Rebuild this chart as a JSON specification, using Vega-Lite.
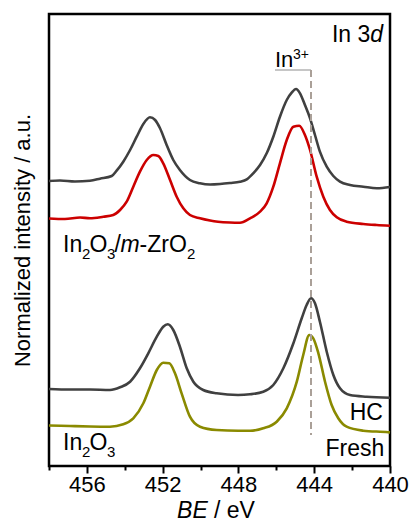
{
  "$schema": "https://vega.github.io/schema/vega-lite/v6.json",
  "width": 341,
  "height": 452,
  "autosize": "none",
  "padding": {"left": 49, "top": 14, "right": 23, "bottom": 61},
  "config": {
    "view": {"stroke": "black", "strokeWidth": 2.5},
    "font": "Liberation Sans",
    "text": {"font": "Liberation Sans", "color": "black", "baseline": "alphabetic"}
  },
  "encoding": {
    "x": {
      "field": "be", "type": "quantitative",
      "scale": {"domain": [440, 458], "reverse": true, "nice": false, "zero": false},
      "axis": {
        "values": [458, 456, 454, 452, 450, 448, 446, 444, 442, 440],
        "domain": false, "grid": false, "title": null,
        "tickColor": "black", "tickWidth": 2,
        "tickSize": {"condition": {"test": "datum.value % 4 == 0", "value": 7}, "value": 4},
        "labelExpr": "datum.value % 4 == 0 ? datum.label : ''",
        "labelFontSize": 22, "labelColor": "black", "labelFont": "Liberation Sans",
        "labelPadding": 1, "labelFlush": false, "labelOverlap": false
      }
    },
    "y": {
      "field": "intensity", "type": "quantitative",
      "scale": {"domain": [0, 452], "nice": false, "zero": false},
      "axis": {
        "ticks": false, "labels": false, "domain": false, "grid": false,
        "title": "Normalized intensity / a.u.", "titleFontSize": 22,
        "titleFontWeight": "normal", "titleColor": "black", "titleFont": "Liberation Sans",
        "titlePadding": 15
      }
    }
  },
  "layer": [
    {
      "data": {"values": [
        {"series": "mZ_HC", "be": 458.00, "intensity": 285},
        {"series": "mZ_HC", "be": 457.42, "intensity": 285.5},
        {"series": "mZ_HC", "be": 456.63, "intensity": 284.5},
        {"series": "mZ_HC", "be": 455.84, "intensity": 285.3},
        {"series": "mZ_HC", "be": 455.31, "intensity": 287.3},
        {"series": "mZ_HC", "be": 454.69, "intensity": 290},
        {"series": "mZ_HC", "be": 454.43, "intensity": 295.3},
        {"series": "mZ_HC", "be": 454.08, "intensity": 304.3},
        {"series": "mZ_HC", "be": 453.72, "intensity": 316},
        {"series": "mZ_HC", "be": 453.37, "intensity": 329.3},
        {"series": "mZ_HC", "be": 453.02, "intensity": 342},
        {"series": "mZ_HC", "be": 452.67, "intensity": 348.7},
        {"series": "mZ_HC", "be": 452.40, "intensity": 346},
        {"series": "mZ_HC", "be": 452.14, "intensity": 337.7},
        {"series": "mZ_HC", "be": 451.79, "intensity": 321},
        {"series": "mZ_HC", "be": 451.44, "intensity": 306},
        {"series": "mZ_HC", "be": 451.09, "intensity": 296},
        {"series": "mZ_HC", "be": 450.56, "intensity": 286},
        {"series": "mZ_HC", "be": 450.03, "intensity": 282.7},
        {"series": "mZ_HC", "be": 449.50, "intensity": 281.5},
        {"series": "mZ_HC", "be": 448.97, "intensity": 282},
        {"series": "mZ_HC", "be": 448.45, "intensity": 283},
        {"series": "mZ_HC", "be": 447.92, "intensity": 284.3},
        {"series": "mZ_HC", "be": 447.56, "intensity": 286.7},
        {"series": "mZ_HC", "be": 447.22, "intensity": 292.7},
        {"series": "mZ_HC", "be": 446.86, "intensity": 301},
        {"series": "mZ_HC", "be": 446.51, "intensity": 312.7},
        {"series": "mZ_HC", "be": 446.16, "intensity": 329.3},
        {"series": "mZ_HC", "be": 445.81, "intensity": 349.3},
        {"series": "mZ_HC", "be": 445.45, "intensity": 366},
        {"series": "mZ_HC", "be": 445.19, "intensity": 373.3},
        {"series": "mZ_HC", "be": 444.96, "intensity": 377},
        {"series": "mZ_HC", "be": 444.75, "intensity": 372.7},
        {"series": "mZ_HC", "be": 444.49, "intensity": 361},
        {"series": "mZ_HC", "be": 444.22, "intensity": 347.7},
        {"series": "mZ_HC", "be": 443.96, "intensity": 331},
        {"series": "mZ_HC", "be": 443.70, "intensity": 314.3},
        {"series": "mZ_HC", "be": 443.34, "intensity": 299.3},
        {"series": "mZ_HC", "be": 442.99, "intensity": 290},
        {"series": "mZ_HC", "be": 442.64, "intensity": 284.3},
        {"series": "mZ_HC", "be": 442.11, "intensity": 281},
        {"series": "mZ_HC", "be": 441.41, "intensity": 279.3},
        {"series": "mZ_HC", "be": 440.70, "intensity": 277.7},
        {"series": "mZ_HC", "be": 440.00, "intensity": 279},

        {"series": "mZ_Fresh", "be": 458.00, "intensity": 247.5},
        {"series": "mZ_Fresh", "be": 457.16, "intensity": 247},
        {"series": "mZ_Fresh", "be": 456.36, "intensity": 248.5},
        {"series": "mZ_Fresh", "be": 455.84, "intensity": 247.7},
        {"series": "mZ_Fresh", "be": 455.13, "intensity": 249.3},
        {"series": "mZ_Fresh", "be": 454.61, "intensity": 251},
        {"series": "mZ_Fresh", "be": 454.25, "intensity": 256},
        {"series": "mZ_Fresh", "be": 453.90, "intensity": 264.3},
        {"series": "mZ_Fresh", "be": 453.55, "intensity": 279.3},
        {"series": "mZ_Fresh", "be": 453.20, "intensity": 294.3},
        {"series": "mZ_Fresh", "be": 452.84, "intensity": 306},
        {"series": "mZ_Fresh", "be": 452.49, "intensity": 311},
        {"series": "mZ_Fresh", "be": 452.23, "intensity": 310},
        {"series": "mZ_Fresh", "be": 451.97, "intensity": 302.7},
        {"series": "mZ_Fresh", "be": 451.61, "intensity": 286},
        {"series": "mZ_Fresh", "be": 451.26, "intensity": 269.3},
        {"series": "mZ_Fresh", "be": 450.91, "intensity": 257.7},
        {"series": "mZ_Fresh", "be": 450.56, "intensity": 251},
        {"series": "mZ_Fresh", "be": 450.03, "intensity": 247.7},
        {"series": "mZ_Fresh", "be": 449.50, "intensity": 245.5},
        {"series": "mZ_Fresh", "be": 449.08, "intensity": 244.3},
        {"series": "mZ_Fresh", "be": 448.45, "intensity": 243.5},
        {"series": "mZ_Fresh", "be": 447.92, "intensity": 243.3},
        {"series": "mZ_Fresh", "be": 447.39, "intensity": 247.7},
        {"series": "mZ_Fresh", "be": 446.86, "intensity": 254.3},
        {"series": "mZ_Fresh", "be": 446.51, "intensity": 262.7},
        {"series": "mZ_Fresh", "be": 446.16, "intensity": 279.3},
        {"series": "mZ_Fresh", "be": 445.81, "intensity": 302.7},
        {"series": "mZ_Fresh", "be": 445.45, "intensity": 326},
        {"series": "mZ_Fresh", "be": 445.10, "intensity": 339.3},
        {"series": "mZ_Fresh", "be": 444.79, "intensity": 340.3},
        {"series": "mZ_Fresh", "be": 444.49, "intensity": 331},
        {"series": "mZ_Fresh", "be": 444.22, "intensity": 316},
        {"series": "mZ_Fresh", "be": 443.87, "intensity": 289.3},
        {"series": "mZ_Fresh", "be": 443.52, "intensity": 269.3},
        {"series": "mZ_Fresh", "be": 443.17, "intensity": 256},
        {"series": "mZ_Fresh", "be": 442.81, "intensity": 248.7},
        {"series": "mZ_Fresh", "be": 442.29, "intensity": 244.3},
        {"series": "mZ_Fresh", "be": 441.41, "intensity": 242},
        {"series": "mZ_Fresh", "be": 440.70, "intensity": 241},
        {"series": "mZ_Fresh", "be": 440.00, "intensity": 240.3},

        {"series": "In_HC", "be": 458.00, "intensity": 77},
        {"series": "In_HC", "be": 456.89, "intensity": 76.5},
        {"series": "In_HC", "be": 455.84, "intensity": 76.5},
        {"series": "In_HC", "be": 454.78, "intensity": 76},
        {"series": "In_HC", "be": 454.25, "intensity": 78.7},
        {"series": "In_HC", "be": 453.72, "intensity": 84.3},
        {"series": "In_HC", "be": 453.20, "intensity": 97.7},
        {"series": "In_HC", "be": 452.76, "intensity": 112.7},
        {"series": "In_HC", "be": 452.31, "intensity": 129.3},
        {"series": "In_HC", "be": 451.97, "intensity": 139.3},
        {"series": "In_HC", "be": 451.73, "intensity": 141.7},
        {"series": "In_HC", "be": 451.44, "intensity": 136},
        {"series": "In_HC", "be": 451.09, "intensity": 119.3},
        {"series": "In_HC", "be": 450.73, "intensity": 97.7},
        {"series": "In_HC", "be": 450.38, "intensity": 84.3},
        {"series": "In_HC", "be": 449.86, "intensity": 76},
        {"series": "In_HC", "be": 449.15, "intensity": 72.7},
        {"series": "In_HC", "be": 448.02, "intensity": 71},
        {"series": "In_HC", "be": 447.39, "intensity": 71.7},
        {"series": "In_HC", "be": 446.69, "intensity": 74.3},
        {"series": "In_HC", "be": 446.16, "intensity": 81},
        {"series": "In_HC", "be": 445.63, "intensity": 97.7},
        {"series": "In_HC", "be": 445.10, "intensity": 122.7},
        {"series": "In_HC", "be": 444.66, "intensity": 147.7},
        {"series": "In_HC", "be": 444.40, "intensity": 161},
        {"series": "In_HC", "be": 444.17, "intensity": 167.7},
        {"series": "In_HC", "be": 443.96, "intensity": 162.7},
        {"series": "In_HC", "be": 443.70, "intensity": 144.3},
        {"series": "In_HC", "be": 443.34, "intensity": 114.3},
        {"series": "In_HC", "be": 442.99, "intensity": 91},
        {"series": "In_HC", "be": 442.64, "intensity": 77.7},
        {"series": "In_HC", "be": 442.11, "intensity": 71},
        {"series": "In_HC", "be": 441.23, "intensity": 69.3},
        {"series": "In_HC", "be": 440.00, "intensity": 68.3},

        {"series": "In_Fresh", "be": 458.00, "intensity": 40.5},
        {"series": "In_Fresh", "be": 456.89, "intensity": 40},
        {"series": "In_Fresh", "be": 455.84, "intensity": 39.5},
        {"series": "In_Fresh", "be": 454.78, "intensity": 39.3},
        {"series": "In_Fresh", "be": 454.08, "intensity": 41.7},
        {"series": "In_Fresh", "be": 453.55, "intensity": 47.7},
        {"series": "In_Fresh", "be": 453.02, "intensity": 62.7},
        {"series": "In_Fresh", "be": 452.67, "intensity": 79.3},
        {"series": "In_Fresh", "be": 452.31, "intensity": 96},
        {"series": "In_Fresh", "be": 451.97, "intensity": 103.3},
        {"series": "In_Fresh", "be": 451.65, "intensity": 102.7},
        {"series": "In_Fresh", "be": 451.35, "intensity": 92.7},
        {"series": "In_Fresh", "be": 451.00, "intensity": 72.7},
        {"series": "In_Fresh", "be": 450.56, "intensity": 49.3},
        {"series": "In_Fresh", "be": 450.03, "intensity": 39.3},
        {"series": "In_Fresh", "be": 449.15, "intensity": 36},
        {"series": "In_Fresh", "be": 448.02, "intensity": 35.3},
        {"series": "In_Fresh", "be": 447.39, "intensity": 35.3},
        {"series": "In_Fresh", "be": 446.69, "intensity": 37.7},
        {"series": "In_Fresh", "be": 445.98, "intensity": 44.3},
        {"series": "In_Fresh", "be": 445.45, "intensity": 57.7},
        {"series": "In_Fresh", "be": 444.92, "intensity": 84.3},
        {"series": "In_Fresh", "be": 444.58, "intensity": 111},
        {"series": "In_Fresh", "be": 444.26, "intensity": 131},
        {"series": "In_Fresh", "be": 444.05, "intensity": 127.7},
        {"series": "In_Fresh", "be": 443.78, "intensity": 112.7},
        {"series": "In_Fresh", "be": 443.43, "intensity": 84.3},
        {"series": "In_Fresh", "be": 443.08, "intensity": 61},
        {"series": "In_Fresh", "be": 442.73, "intensity": 47.7},
        {"series": "In_Fresh", "be": 442.29, "intensity": 39.3},
        {"series": "In_Fresh", "be": 441.41, "intensity": 35.3},
        {"series": "In_Fresh", "be": 440.09, "intensity": 33.7},
        {"series": "In_Fresh", "be": 440.00, "intensity": 33.5}
      ]},
      "mark": {"type": "line", "interpolate": "monotone", "strokeWidth": 2.6},
      "encoding": {
        "color": {
          "field": "series", "type": "nominal",
          "scale": {"domain": ["mZ_HC", "mZ_Fresh", "In_HC", "In_Fresh"], "range": ["#404040", "#cc0000", "#404040", "#8a8a00"]},
          "legend": null
        }
      }
    },
    {
      "data": {"values": [{"be": 446.07, "be2": 444.17, "intensity": 396}]},
      "mark": {"type": "rule", "color": "#b3b3b3", "strokeWidth": 1.5},
      "encoding": {"x2": {"field": "be2"}}
    },
    {
      "data": {"values": [{"be": 444.17, "intensity": 396, "intensity2": 31}]},
      "mark": {"type": "rule", "color": "#aaa098", "strokeWidth": 2, "strokeDash": [7, 4]},
      "encoding": {"y2": {"field": "intensity2"}}
    },
    {
      "data": {"values": [
        {"text": "In", "be": 457.26, "intensity": 214},
        {"text": "O", "be": 455.86, "intensity": 214},
        {"text": "/", "be": 454.54, "intensity": 214},
        {"text": "-ZrO", "be": 453.22, "intensity": 214},
        {"text": "In", "be": 457.26, "intensity": 16},
        {"text": "O", "be": 455.86, "intensity": 16}
      ]},
      "mark": {"type": "text", "fontSize": 23, "align": "left"},
      "encoding": {"text": {"field": "text"}}
    },
    {
      "data": {"values": [{"text": "m", "be": 454.23, "intensity": 214}]},
      "mark": {"type": "text", "fontSize": 23, "align": "left", "fontStyle": "italic"},
      "encoding": {"text": {"field": "text"}}
    },
    {
      "data": {"values": [
        {"text": "2", "be": 456.26, "intensity": 207},
        {"text": "3", "be": 454.94, "intensity": 207},
        {"text": "2", "be": 450.72, "intensity": 207},
        {"text": "2", "be": 456.26, "intensity": 9},
        {"text": "3", "be": 454.94, "intensity": 9}
      ]},
      "mark": {"type": "text", "fontSize": 15, "align": "left"},
      "encoding": {"text": {"field": "text"}}
    },
    {
      "data": {"values": [
        {"text": "In 3", "be": 441.04, "intensity": 424},
        {"text": "HC", "be": 440.37, "intensity": 46},
        {"text": "Fresh", "be": 440.30, "intensity": 10}
      ]},
      "mark": {"type": "text", "fontSize": 23, "align": "right"},
      "encoding": {"text": {"field": "text"}}
    },
    {
      "data": {"values": [
        {"text": "d", "be": 441.04, "intensity": 424},
        {"text": "BE", "be": 451.24, "intensity": -52}
      ]},
      "mark": {"type": "text", "fontSize": 23, "align": "left", "fontStyle": "italic"},
      "encoding": {"text": {"field": "text"}}
    },
    {
      "data": {"values": [{"text": "/ eV", "be": 449.29, "intensity": -52}]},
      "mark": {"type": "text", "fontSize": 23, "align": "left"},
      "encoding": {"text": {"field": "text"}}
    },
    {
      "data": {"values": [{"text": "In", "be": 446.07, "intensity": 399.5}]},
      "mark": {"type": "text", "fontSize": 22, "align": "left"},
      "encoding": {"text": {"field": "text"}}
    },
    {
      "data": {"values": [{"text": "3+", "be": 445.12, "intensity": 407}]},
      "mark": {"type": "text", "fontSize": 14, "align": "left"},
      "encoding": {"text": {"field": "text"}}
    }
  ]
}
